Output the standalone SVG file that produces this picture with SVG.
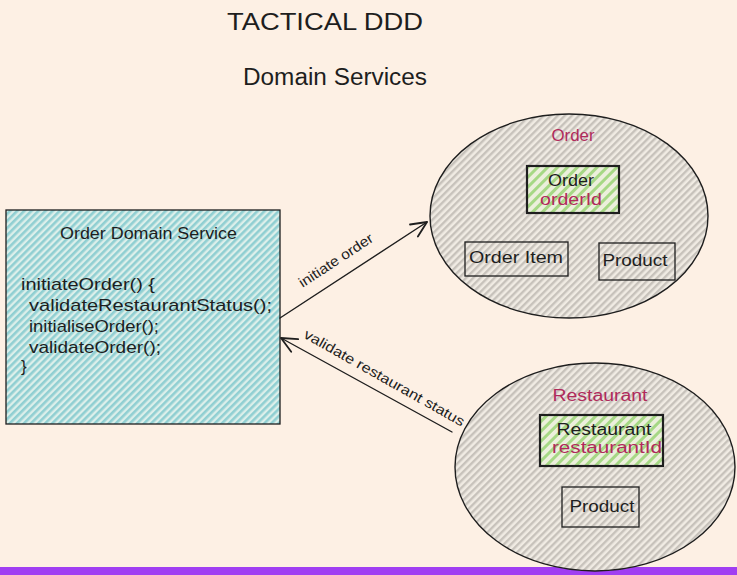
<svg xmlns="http://www.w3.org/2000/svg" width="737" height="575" viewBox="0 0 737 575">
<defs>
<pattern id="hTeal" patternUnits="userSpaceOnUse" width="5" height="5" patternTransform="rotate(45)">
<rect width="5" height="5" fill="#dcefea"/><rect width="2.6" height="5" fill="#90cfd2"/>
</pattern>
<pattern id="hGray" patternUnits="userSpaceOnUse" width="5" height="5" patternTransform="rotate(45)">
<rect width="5" height="5" fill="#f0ebe3"/><rect width="2.4" height="5" fill="#c7c2bb"/>
</pattern>
<pattern id="hGreen" patternUnits="userSpaceOnUse" width="7" height="7" patternTransform="rotate(45)">
<rect width="7" height="7" fill="#ecefdc"/><rect width="3" height="7" fill="#a6d885"/>
</pattern>
<marker id="arr" markerUnits="userSpaceOnUse" markerWidth="24" markerHeight="24" refX="0" refY="0" viewBox="-14 -10 16 20" orient="auto">
<path d="M-13,-6 L0,0 L-13,6" fill="none" stroke="#1e1e1e" stroke-width="1.5" stroke-linecap="round" stroke-linejoin="round"/>
</marker>
</defs>
<style>
text{font-family:"Liberation Sans","DejaVu Sans",sans-serif;fill:#1e1e1e}
.t{font-size:23px}
.n{font-size:16px}
.c{font-size:17px}
.e{font-size:14px}
.red{fill:#b02a5b}
.box{fill:none;stroke:#1e1e1e;stroke-width:1.3}
.ent{stroke:#1e1e1e;stroke-width:2.2;fill:url(#hGreen)}
.ell{fill:url(#hGray);stroke:#1e1e1e;stroke-width:1.4}
.ln{fill:none;stroke:#1e1e1e;stroke-width:1.4;stroke-linecap:round}
</style>
<rect width="737" height="575" fill="#fdf0e4"/>
<rect x="0" y="567" width="737" height="8" fill="#a03ef2"/>

<g id="title">
<text class="t" x="227" y="30" textLength="196" lengthAdjust="spacingAndGlyphs">TACTICAL DDD</text>
<text class="t" x="243" y="85" textLength="184" lengthAdjust="spacingAndGlyphs">Domain Services</text>
</g>

<g id="orderDomainService">
<rect x="6" y="210" width="274" height="214" fill="url(#hTeal)" stroke="#1e1e1e" stroke-width="1.3"/>
<text class="n" x="60" y="239" textLength="177" lengthAdjust="spacingAndGlyphs">Order Domain Service</text>
<text class="c" x="21" y="290" textLength="134" lengthAdjust="spacingAndGlyphs">initiateOrder() {</text>
<text class="c" x="29" y="311" textLength="243" lengthAdjust="spacingAndGlyphs">validateRestaurantStatus();</text>
<text class="c" x="29" y="332" textLength="130" lengthAdjust="spacingAndGlyphs">initialiseOrder();</text>
<text class="c" x="29" y="353" textLength="132" lengthAdjust="spacingAndGlyphs">validateOrder();</text>
<text class="c" x="21" y="372">}</text>
</g>

<g id="orderAggregate">
<ellipse class="ell" cx="569" cy="216" rx="139" ry="102"/>
<text class="n red" x="573" y="141" text-anchor="middle" textLength="43" lengthAdjust="spacingAndGlyphs">Order</text>
<g id="orderEntity">
<rect class="ent" x="527" y="166" width="92" height="47"/>
<text class="n" x="571" y="186" text-anchor="middle" textLength="46" lengthAdjust="spacingAndGlyphs">Order</text>
<text class="n red" x="571" y="205" text-anchor="middle" textLength="62" lengthAdjust="spacingAndGlyphs">orderId</text>
</g>
<g id="orderItem">
<rect class="box" x="465" y="242" width="103" height="34"/>
<text class="n" x="516" y="263" text-anchor="middle" textLength="94" lengthAdjust="spacingAndGlyphs">Order Item</text>
</g>
<g id="orderProduct">
<rect class="box" x="599" y="243" width="76" height="37"/>
<text class="n" x="635" y="266" text-anchor="middle" textLength="65" lengthAdjust="spacingAndGlyphs">Product</text>
</g>
</g>

<g id="restaurantAggregate">
<ellipse class="ell" cx="595" cy="467" rx="140" ry="104"/>
<text class="n red" x="600" y="401" text-anchor="middle" textLength="95" lengthAdjust="spacingAndGlyphs">Restaurant</text>
<g id="restaurantEntity">
<rect class="ent" x="540" y="415" width="123" height="51"/>
<text class="n" x="604" y="435" text-anchor="middle" textLength="95" lengthAdjust="spacingAndGlyphs">Restaurant</text>
<text class="n red" x="607" y="453" text-anchor="middle" textLength="110" lengthAdjust="spacingAndGlyphs">restaurantId</text>
</g>
<g id="restaurantProduct">
<rect class="box" x="562" y="487" width="77" height="40"/>
<text class="n" x="602" y="512" text-anchor="middle" textLength="65" lengthAdjust="spacingAndGlyphs">Product</text>
</g>
</g>

<g id="connectors">
<path class="ln" d="M280,318 L427,222" marker-end="url(#arr)"/>
<text class="e" transform="translate(338.5,264.3) rotate(-33.2)" text-anchor="middle" textLength="86" lengthAdjust="spacingAndGlyphs">initiate order</text>
<path class="ln" d="M452,432 L281,338" stroke-width="1.8" marker-end="url(#arr)"/>
<text class="e" transform="translate(382,382) rotate(29.4)" text-anchor="middle" textLength="182" lengthAdjust="spacingAndGlyphs">validate restaurant status</text>
</g>
</svg>
